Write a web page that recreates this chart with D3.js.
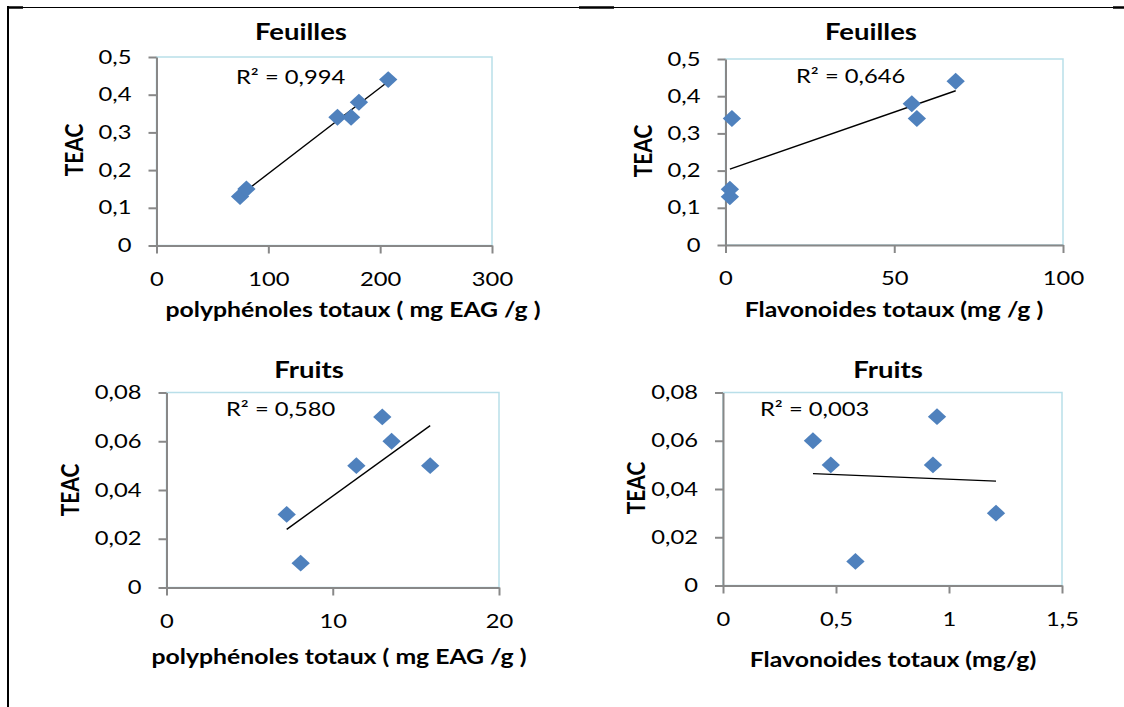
<!DOCTYPE html>
<html>
<head>
<meta charset="utf-8">
<script src="https://cdn.jsdelivr.net/npm/d3@7"></script>
<style>
  body { margin: 0; background: #fff; }
  text { font-family: Lato, "Open Sans", sans-serif; fill: #000; }
</style>
</head>
<body>
<div class="chart"></div>
<script>
// values
var leavesPolyphenols = [74.7, 80.4, 161.8, 174, 181, 207.2];
var leavesTeacPoly = [0.13, 0.15, 0.34, 0.34, 0.38, 0.44];
var leavesFlavonoids = [1.3, 1.3, 1.9, 56.7, 55.2, 68.2];
var leavesTeacFlav = [0.13, 0.15, 0.34, 0.34, 0.38, 0.44];
var fruitsPolyphenols = [7.23, 8.07, 11.42, 12.98, 13.54, 15.86];
var fruitsTeacPoly = [0.03, 0.01, 0.05, 0.07, 0.06, 0.05];
var fruitsFlavonoids = [0.398, 0.477, 0.586, 0.929, 0.947, 1.208];
var fruitsTeacFlav = [0.06, 0.05, 0.01, 0.05, 0.07, 0.03];

var leavesYTicks = [0, 0.1, 0.2, 0.3, 0.4, 0.5];
var fruitsYTicks = [0, 0.02, 0.04, 0.06, 0.08];
var polyLeavesXTicks = [0, 100, 200, 300];
var flavLeavesXTicks = [0, 50, 100];
var polyFruitsXTicks = [0, 10, 20];
var flavFruitsXTicks = [0, 0.5, 1, 1.5];

var titles = ['Feuilles', 'Feuilles', 'Fruits', 'Fruits'];
var xTitles = ['polyphénoles totaux ( mg EAG /g )', 'Flavonoides totaux (mg /g )',
               'polyphénoles totaux ( mg EAG /g )', 'Flavonoides totaux (mg/g)'];
var r2Labels = ['R² = 0,994', 'R² = 0,646', 'R² = 0,580', 'R² = 0,003'];

var width = 1124;
var height = 707;
var sx = 1.25; // the source picture is stretched sideways

var locale = d3.formatLocale({ decimal: ',', thousands: ' ', grouping: [3], currency: ['', ''] });
var fmt = locale.format('~g');

var svg = d3.select('.chart')
  .append('svg')
    .attr('width', width)
    .attr('height', height);

// page frame (table borders of the source document)
svg.append('line').attr('x1', 7).attr('x2', width).attr('y1', 7.5).attr('y2', 7.5)
  .attr('stroke', '#000').attr('stroke-width', 1);
svg.append('line').attr('x1', 8).attr('x2', 8).attr('y1', 6).attr('y2', height)
  .attr('stroke', '#000').attr('stroke-width', 2);
[[7, 23], [579, 614], [1113, 1124]].forEach(function (s) {
  svg.append('line').attr('x1', s[0]).attr('x2', s[1]).attr('y1', 7.5).attr('y2', 7.5)
    .attr('stroke', '#000').attr('stroke-width', 2.5);
});

var panels = [
  { x: leavesPolyphenols, y: leavesTeacPoly, xTicks: polyLeavesXTicks, yTicks: leavesYTicks,
    left: 156.5, right: 492, top: 57, bottom: 245.5,
    titleX: 301, titleY: 32, xTitleX: 353, xTitleY: 310, yTitleX: 75, yTitleY: 150,
    r2X: 236, r2Y: 77 },
  { x: leavesFlavonoids, y: leavesTeacFlav, xTicks: flavLeavesXTicks, yTicks: leavesYTicks,
    left: 725.5, right: 1063, top: 59, bottom: 245,
    titleX: 871, titleY: 32, xTitleX: 894, xTitleY: 310, yTitleX: 644, yTitleY: 151,
    r2X: 796, r2Y: 76 },
  { x: fruitsPolyphenols, y: fruitsTeacPoly, xTicks: polyFruitsXTicks, yTicks: fruitsYTicks,
    left: 166.5, right: 499, top: 392.5, bottom: 587.5,
    titleX: 309, titleY: 370, xTitleX: 339, xTitleY: 657, yTitleX: 71, yTitleY: 490,
    r2X: 226, r2Y: 409 },
  { x: fruitsFlavonoids, y: fruitsTeacFlav, xTicks: flavFruitsXTicks, yTicks: fruitsYTicks,
    left: 723, right: 1062, top: 392.5, bottom: 585.5,
    titleX: 888, titleY: 370, xTitleX: 893, xTitleY: 660, yTitleX: 637, yTitleY: 488,
    r2X: 760, r2Y: 409 }
];

panels.forEach(function (p, i) {
  drawPanel(p, i);
});

function label (g, x, y, txt, size, bold, anchor) {
  return g.append('text')
    .attr('transform', 'translate(' + x + ',' + y + ') scale(' + sx + ',1)')
    .attr('dy', '0.35em')
    .attr('text-anchor', anchor || 'start')
    .style('font-size', size + 'px')
    .style('font-weight', bold ? 'bold' : 'normal')
    .text(txt);
}

function drawPanel (p, i) {
  var g = svg.append('g');
  var xScale = d3.scaleLinear()
    .domain(d3.extent(p.xTicks))
    .range([p.left, p.right]);
  var yScale = d3.scaleLinear()
    .domain(d3.extent(p.yTicks))
    .range([p.bottom, p.top]);

  // plot area
  g.append('rect')
    .attr('x', p.left)
    .attr('y', p.top)
    .attr('width', p.right - p.left)
    .attr('height', p.bottom - p.top)
    .attr('fill', '#fff')
    .attr('stroke', '#b9dfe9')
    .attr('stroke-width', 1.5);

  var yAxis = g.append('g')
    .attr('transform', 'translate(' + p.left + ',0)')
    .call(d3.axisLeft(yScale).tickValues(p.yTicks).tickFormat(fmt)
      .tickSize(8).tickSizeOuter(0).tickPadding(17));
  var xAxis = g.append('g')
    .attr('transform', 'translate(0,' + p.bottom + ')')
    .call(d3.axisBottom(xScale).tickValues(p.xTicks).tickFormat(fmt)
      .tickSize(8).tickSizeOuter(0).tickPadding(19));

  [yAxis, xAxis].forEach(function (a) {
    a.select('.domain').attr('stroke', '#888').attr('stroke-width', 2);
    a.selectAll('.tick line').attr('stroke', '#888').attr('stroke-width', 2);
    a.selectAll('.tick text')
      .style('font-family', 'Lato, sans-serif')
      .style('font-size', '19px')
      .attr('fill', '#000')
      .attr('x', function () { return (+d3.select(this).attr('x') || 0) / sx; })
      .attr('transform', 'scale(' + sx + ',1)');
  });

  // least-squares trendline over the data range
  var mx = d3.mean(p.x);
  var my = d3.mean(p.y);
  var sxy = d3.sum(p.x, function (v, k) { return (v - mx) * (p.y[k] - my); });
  var sxx = d3.sum(p.x, function (v) { return (v - mx) * (v - mx); });
  var slope = sxy / sxx;
  var icept = my - slope * mx;
  var ext = d3.extent(p.x);
  g.append('line')
    .attr('x1', xScale(ext[0]))
    .attr('y1', yScale(icept + slope * ext[0]))
    .attr('x2', xScale(ext[1]))
    .attr('y2', yScale(icept + slope * ext[1]))
    .attr('stroke', '#000')
    .attr('stroke-width', 1.4);

  var diamond = d3.symbol().type(d3.symbolSquare).size(144);
  g.selectAll('path.pt')
    .data(p.x.map(function (v, k) { return [v, p.y[k]]; }))
    .enter()
    .append('path')
      .attr('class', 'pt')
      .attr('d', diamond)
      .attr('transform', function (d) {
        return 'translate(' + xScale(d[0]) + ',' + yScale(d[1]) + ') scale(1.08,1) rotate(45)';
      })
      .attr('fill', '#4f81bd');

  label(g, p.r2X, p.r2Y, r2Labels[i], 19, false);
  label(g, p.titleX, p.titleY, titles[i], 22, true, 'middle');
  label(g, p.xTitleX, p.xTitleY, xTitles[i], 21, true, 'middle')
    .attr('transform', 'translate(' + p.xTitleX + ',' + p.xTitleY + ') scale(1.18,1)');

  g.append('text')
    .attr('transform', 'translate(' + p.yTitleX + ',' + p.yTitleY + ') rotate(-90) scale(1,1.15)')
    .attr('dy', '0.35em')
    .attr('text-anchor', 'middle')
    .style('font-size', '21px')
    .style('font-weight', 'bold')
    .text('TEAC');
}
</script>
</body>
</html>
